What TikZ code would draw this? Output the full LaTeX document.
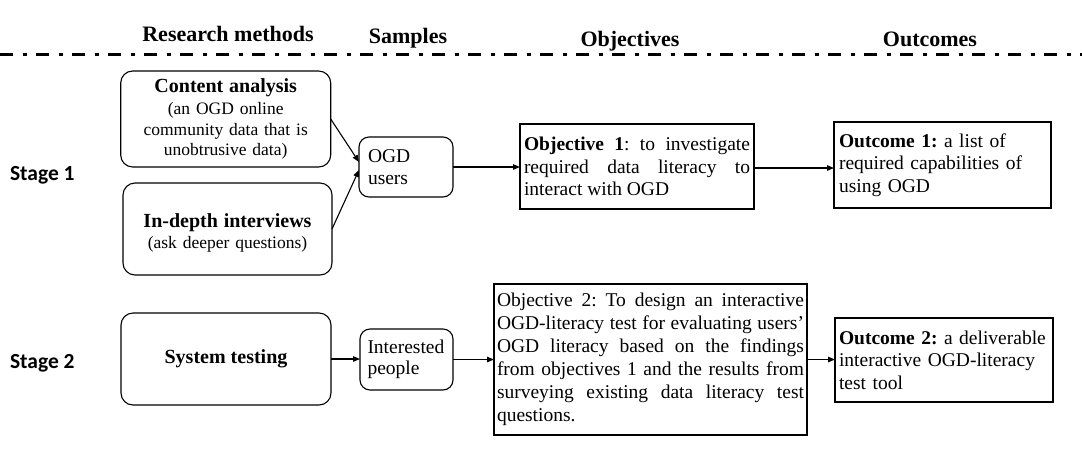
\documentclass[tikz,border=0pt]{standalone}
\usepackage{fontspec}
\setmainfont{Liberation Serif}
\newfontfamily\stagefont{Carlito}
\usetikzlibrary{arrows.meta,calc}
\frenchspacing
\begin{document}
\begin{tikzpicture}[x=1pt,y=-1pt,
  every node/.style={inner sep=0pt,outer sep=0pt,execute at begin node={\frenchspacing\hyphenpenalty=10000 }},
  body/.style={font=\fontsize{19.5}{22.5}\selectfont},
  rbox/.style={draw,line width=1.1pt,rounded corners=12pt,body},
  sbox/.style={draw,line width=1.1pt,body},
  hdr/.style={font=\fontsize{22}{26}\selectfont\bfseries,anchor=base},
  stagelbl/.style={font=\stagefont\fontsize{21.5}{25}\selectfont\bfseries,anchor=base west},
  arr/.style={line width=1.1pt,-{Triangle[length=7pt,width=5.5pt]}},
  sep/.style={line width=3.5pt,dash pattern=on 13pt off 9.5pt on 4pt off 9.5pt}]
\useasboundingbox (0,0) rectangle (1082,459);

% headers
\node[hdr] (h1) at (228,41.7) {Research methods};
\node[hdr] (h2) at (408,43.5) {Samples};
\node[hdr] (h3) at (630,46) {Objectives};
\node[hdr] (h4) at (930,46) {Outcomes};
\coordinate (sepL) at (0,54.5);
\coordinate (sepR) at (1082,54.5);
\draw[sep] (sepL) -- (sepR);

% stage labels
\node[stagelbl] (s1) at (10,180) {Stage 1};
\node[stagelbl] (s2) at (10,368) {Stage 2};

% stage 1
\node[rbox,minimum width=210pt,minimum height=96pt,text width=200pt,align=center,
      font=\fontsize{17.5}{20.5}\selectfont] (content) at (225.7,119)
  {{\fontsize{20}{22}\selectfont\bfseries Content analysis}\\[1.5pt]
   (an OGD online\\ community data that is\\ unobtrusive data)};
\node[rbox,minimum width=209pt,minimum height=92pt,text width=200pt,align=center,
      font=\fontsize{17.5}{20.5}\selectfont] (interv) at (227.5,229)
  {\rule{0pt}{22pt}{\fontsize{20}{22}\selectfont\bfseries In-depth interviews}\\[1pt]
   (ask deeper questions)};
\node[rbox,rounded corners=10pt,minimum width=94pt,minimum height=60pt,text width=76pt,align=left] (ogd) at (406,167)
  {OGD\\users};
\node[sbox,minimum width=234pt,minimum height=85pt,text width=226pt,align=justify] (obj1) at (637,166.5)
  {\textbf{Objective 1}: to investigate\linebreak required data literacy to\linebreak interact with OGD};
\node[sbox,minimum width=217pt,minimum height=86pt,text width=207pt,align=left] (out1) at (942.5,165)
  {\textbf{Outcome 1:} a list of\\ required capabilities of\\ using OGD};

\draw[arr] (content.east) -- ([yshift=5pt]ogd.west);
\draw[arr] (interv.east) -- ([yshift=-3pt]ogd.west);
\draw[arr] (ogd.east) -- (ogd.east -| obj1.west);
\draw[arr] ([yshift=-1.5pt]obj1.east) -- ([yshift=-1.5pt]obj1.east -| out1.west);

% stage 2
\node[rbox,minimum width=210pt,minimum height=92pt] (sys) at (226,359)
  {\fontsize{20}{22}\selectfont\bfseries System testing};
\node[rbox,rounded corners=10pt,minimum width=93pt,minimum height=61pt,text width=78pt,align=left,
      font=\fontsize{19.5}{21.5}\selectfont] (intp) at (406.5,359.5)
  {Interested\\people};
\node[sbox,minimum width=313pt,minimum height=151pt,text width=307pt,align=justify,
      font=\fontsize{19.5}{23}\selectfont] (obj2) at (650.5,359.5)
  {Objective 2: To design an interactive\linebreak OGD-literacy test for evaluating users’\linebreak OGD literacy based on the findings\linebreak from objectives 1 and the results from\linebreak surveying existing data literacy test\linebreak questions.};
\node[sbox,minimum width=218pt,minimum height=84pt,text width=210pt,align=left] (out2) at (944,360)
  {\textbf{Outcome 2:} a deliverable\\ interactive OGD-literacy\\ test tool};

\draw[arr] (sys.east) -- (sys.east -| intp.west);
\draw[arr] (intp.east) -- (intp.east -| obj2.west);
\draw[arr] (obj2.east) -- (obj2.east -| out2.west);
\end{tikzpicture}
\end{document}
